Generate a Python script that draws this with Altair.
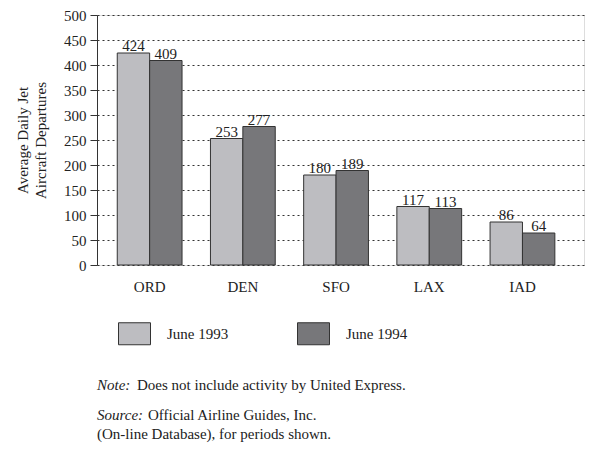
import altair as alt
import pandas as pd

airports = ["ORD", "DEN", "SFO", "LAX", "IAD"]
periods = ["June 1993", "June 1994"]
june_1993 = [424, 253, 180, 117, 86]
june_1994 = [409, 277, 189, 113, 64]
y_ticks = list(range(0, 501, 50))
colors = ["#bdbdc1", "#77777a"]

rows = []
for a, v93, v94 in zip(airports, june_1993, june_1994):
    rows.append({"airport": a, "period": periods[0], "value": v93})
    rows.append({"airport": a, "period": periods[1], "value": v94})
df = pd.DataFrame(rows)

FONT = "Liberation Serif"
INK = "#222222"

base = alt.Chart(df).encode(
    x=alt.X(
        "airport:N",
        sort=airports,
        scale=alt.Scale(paddingInner=0.305, paddingOuter=0.265, align=0.41),
        axis=alt.Axis(
            title=None, ticks=False, labelAngle=0, domain=False,
            labelFont=FONT, labelFontSize=15, labelColor=INK,
            labelPadding=14, labelBaseline="top",
        ),
    ),
    xOffset=alt.XOffset(
        "period:N", sort=periods,
        scale=alt.Scale(paddingInner=0, paddingOuter=0),
    ),
    y=alt.Y(
        "value:Q",
        scale=alt.Scale(domain=[0, 500], nice=False),
        axis=alt.Axis(
            values=y_ticks,
            title=["Average Daily Jet", "Aircraft Departures"],
            titleFont=FONT, titleFontSize=15, titleFontWeight="normal",
            titleColor=INK, titleLineHeight=18, titlePadding=15,
            labelFont=FONT, labelFontSize=15, labelColor=INK, labelPadding=4,
            tickSize=7, tickColor="#333333", domainColor="#333333",
            grid=True, gridDash=[2, 3], gridColor="#333333", gridOpacity=1,
        ),
    ),
)

legend_symbol = "M-1,-0.6875H1V0.6875H-1Z"

bars = base.mark_bar(stroke="#333333", strokeWidth=1, opacity=1).encode(
    color=alt.Color(
        "period:N",
        sort=periods,
        scale=alt.Scale(domain=periods, range=colors),
        legend=alt.Legend(
            title=None, orient="none", legendX=21, legendY=302,
            direction="horizontal", symbolType=legend_symbol, symbolSize=1024,
            symbolStrokeColor="#333333", symbolStrokeWidth=1, symbolOpacity=1,
            labelFont=FONT, labelFontSize=15, labelColor=INK, labelOffset=16,
            columnPadding=66, padding=0,
        ),
    )
)

labels = base.mark_text(
    font=FONT, fontSize=15, baseline="alphabetic", dy=-2, color=INK
).encode(text="value:Q")


def txt(s, x, y, italic=False):
    return alt.Chart(alt.Data(values=[{}])).mark_text(
        text=s, font=FONT, fontSize=15,
        fontStyle="italic" if italic else "normal",
        align="left", baseline="alphabetic", color=INK,
    ).encode(x=alt.value(x), y=alt.value(y))


notes = [
    txt("Note:", 0, 375, True),
    txt("Does not include activity by United Express.", 40, 375),
    txt("Source:", 0, 405, True),
    txt("Official Airline Guides, Inc.", 51, 405),
    txt("(On-line Database), for periods shown.", 0, 424),
]

chart = alt.layer(bars, labels, *notes).properties(
    width=487, height=250,
    autosize=alt.AutoSizeParams(type="none"),
    padding={"left": 89, "top": 7, "right": 1, "bottom": 178},
).configure_view(stroke="#333333", strokeWidth=1).configure(background="white")

chart.save("out.html", embed_options={"renderer": "svg", "actions": False})
